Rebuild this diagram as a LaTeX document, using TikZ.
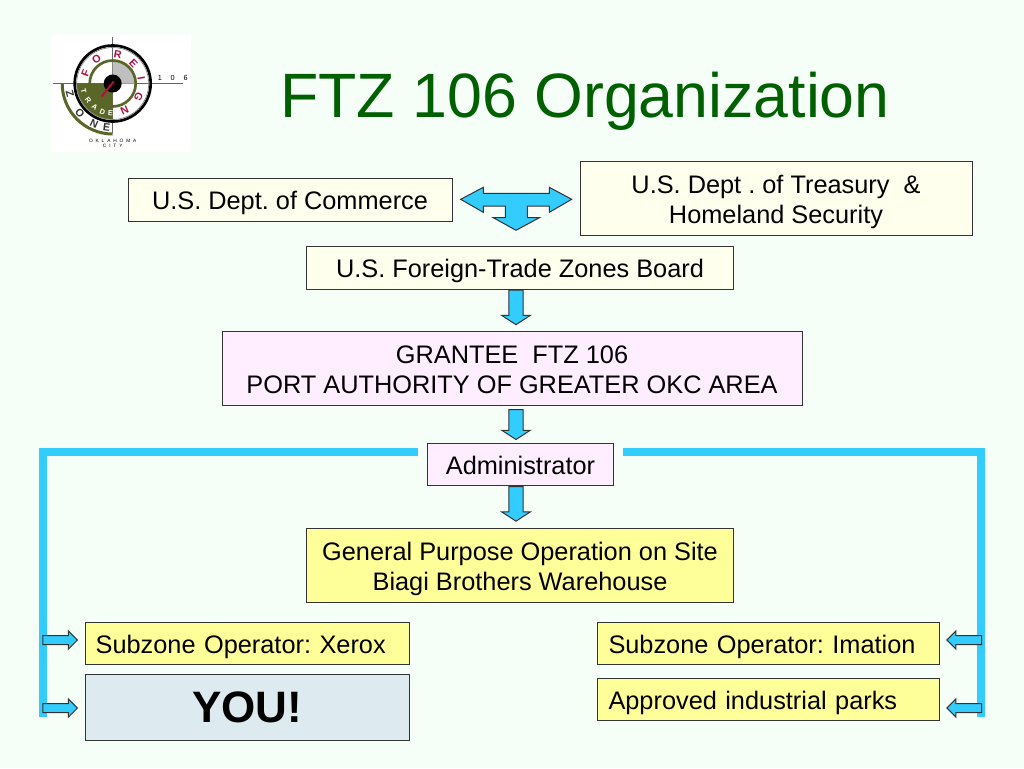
\documentclass[tikz,border=0pt]{standalone}
\usepackage{fontspec}
\setmainfont{Liberation Sans}
\usetikzlibrary{shapes.arrows}
\definecolor{slidebg}{HTML}{F5FFF8}
\definecolor{titlegreen}{HTML}{006000}
\definecolor{arrowblue}{HTML}{33CCFF}
\definecolor{ivorybox}{HTML}{FFFFEE}
\definecolor{pinkbox}{HTML}{FFEEFF}
\definecolor{yellowbox}{HTML}{FFFF99}
\definecolor{youbox}{HTML}{DDEBF0}
\definecolor{logogreen}{HTML}{5A6628}
\definecolor{logored}{HTML}{B01040}
\newcommand{\topstrut}{\rule{0pt}{18.5pt}}
\newcommand{\tallstrut}{\rule{0pt}{42pt}}
\newcommand{\botstrut}{\rule[-4pt]{0pt}{4pt}}
\tikzset{
	orgbox/.style={draw=black!80, line width=0.75pt, align=center, inner sep=0pt, minimum height=32pt},
	textbox/.style={orgbox, font=\fontsize{19}{23}\selectfont\frenchspacing, execute at begin node=\topstrut, execute at end node=\botstrut},
	twoline/.style={minimum height=55pt, execute at begin node=\tallstrut},
	ivory/.style={textbox, fill=ivorybox},
	pinkish/.style={textbox, fill=pinkbox},
	yellowish/.style={textbox, fill=yellowbox},
	subzone/.style={yellowish, align=left},
	downarrow/.style={single arrow, draw=black!80, fill=arrowblue, line width=0.75pt, rotate=-90, anchor=tail, inner xsep=0pt, inner ysep=5pt, minimum width=21pt, single arrow head extend=5.25pt, single arrow tip angle=114},
	sidearrow/.style={single arrow, draw=black!80, fill=arrowblue, line width=0.75pt, anchor=tail, inner xsep=0pt, inner ysep=3pt, minimum width=13.5pt, minimum height=26pt, single arrow head extend=3.4pt, single arrow tip angle=90},
	logoletter/.style={inner sep=0pt, font=\fontsize{8}{8}\selectfont\bfseries}
}
\begin{document}
\begin{tikzpicture}[x=0.75pt, y=-0.75pt]
\useasboundingbox (0,0) rectangle (1024,768);
\fill[slidebg] (0,0) rectangle (1024,768);

% logo
\fill[white] (51,34) rectangle (191,152);
\begin{scope}[shift={(112.7,83.5)}, x=0.75pt, y=0.75pt]
	\fill[logogreen] (180:52) arc (180:270:52) -- (270:49) arc (270:180:49) -- cycle;
	\draw[black!60, line width=0.4pt] (-60,0) -- (70,0) (0,47) -- (0,-49);
	\fill[logogreen] (0,0) -- (180:36) arc (180:270:36) -- cycle;
	\draw[black, line width=2pt] (0,0) circle [radius=38];
	\draw[black!50, line width=0.5pt] (0,0) circle [radius=36];
	\fill[black!25] (0,0) -- (0:23) arc (0:90:23) -- cycle;
	\draw[logogreen, line width=2pt] (0,0) circle [radius=23];
	\fill[black] (0,0) circle [radius=9];
	\draw[logored, line width=1.5pt] (1,2) -- (-11,-13);
	\foreach \ang/\ch [count=\i] in {160/F,124/O,80/R,44/E,10/I,-27/G,-66/N}
		\node (foreign\i) [logoletter, text=logored, rotate=\ang-90] at (\ang:29) {\ch};
	\foreach \ang/\ch [count=\i] in {194/T,215/R,233/A,250/D,266/E}
		\node (trade\i) [logoletter, font=\fontsize{5.5}{6}\selectfont\bfseries, text=white, rotate=\ang+90] at (\ang:30) {\ch};
	\foreach \ang/\ch [count=\i] in {194/Z,222/O,245/N,262/E}
		\node (zone\i) [logoletter, text=black!80, rotate=\ang+90] at (\ang:44) {\ch};
	\node (logonum) [logoletter, font=\fontsize{5.5}{6}\selectfont\addfontfeatures{LetterSpace=120}] at (60,6) {106};
	\node (logocity) [align=center, inner sep=0pt, font=\fontsize{3.6}{4}\selectfont\addfontfeatures{LetterSpace=60}] at (0,-60) {OKLAHOMA\\CITY};
\end{scope}

\node (title) [text=titlegreen, inner sep=0pt, font=\fontsize{47}{50}\selectfont] at (585,101) {FTZ 106 Organization};

% boxes
\node (commerce) [ivory, minimum width=243pt] at (290,200) {U.S. Dept. of Commerce};
\node (treasury) [ivory, twoline, minimum width=294pt] at (776,198.5) {U.S. Dept . of Treasury~~\&\\Homeland Security};
\node (board) [ivory, minimum width=320pt] at (520,268) {U.S. Foreign-Trade Zones Board};
\node (grantee) [pinkish, twoline, minimum width=435pt] at (512,368.5) {GRANTEE~~FTZ 106\\PORT AUTHORITY OF GREATER OKC AREA};
\node (admin) [pinkish, minimum width=140pt] at (520.5,464.5) {Administrator};
\node (general) [yellowish, twoline, minimum width=320pt] at (520,565.5) {General Purpose Operation on Site\\Biagi Brothers Warehouse};
\node (xerox) [subzone, minimum width=243pt, text width=227pt] at (247,643.5) {Subzone Operator: Xerox};
\node (you) [orgbox, fill=youbox, minimum width=243pt, minimum height=49.5pt, font=\fontsize{33}{36}\selectfont\bfseries] at (247,707) {YOU!};
\node (imation) [subzone, minimum width=256pt, text width=240pt] at (768.5,643.5) {Subzone Operator: Imation};
\node (parks) [subzone, minimum width=256pt, text width=240pt] at (768.5,699.5) {Approved industrial parks};

% bracket
\draw[arrowblue, line width=6pt] (admin.west) ++(-9,-12.5) coordinate (leftstart) -- (42.5,452) -- (42.5,717);
\draw[arrowblue, line width=6pt] (admin.east) ++(9,-12.5) coordinate (rightstart) -- (981,452) -- (981,717);

% arrows
\draw[draw=black!80, fill=arrowblue, line width=0.75pt] (460.7,199.3) -- (483.3,187.3) -- (483.3,193.3) -- (549.3,193.3) -- (549.3,187.3) -- (571.7,199.3) -- (549.3,212.3) -- (549.3,206) -- (527.3,206) -- (527.3,217.7) -- (539.3,217.7) -- (516,230.3) -- (493.3,217.7) -- (505.3,217.7) -- (505.3,206) -- (483.3,206) -- (483.3,212.3) -- cycle;
\node (arrowboard) [downarrow, minimum height=26pt] at (516,289.5) {};
\node (arrowgrantee) [downarrow, minimum height=22.5pt] at (516,409) {};
\node (arrowadmin) [downarrow, minimum height=26pt] at (516,486) {};
\node (arrowxerox) [sidearrow] at (42.3,640) {};
\node (arrowyou) [sidearrow] at (42.3,708) {};
\node (arrowimation) [sidearrow, rotate=180] at (982,640) {};
\node (arrowparks) [sidearrow, rotate=180] at (982,708) {};
\end{tikzpicture}
\end{document}
